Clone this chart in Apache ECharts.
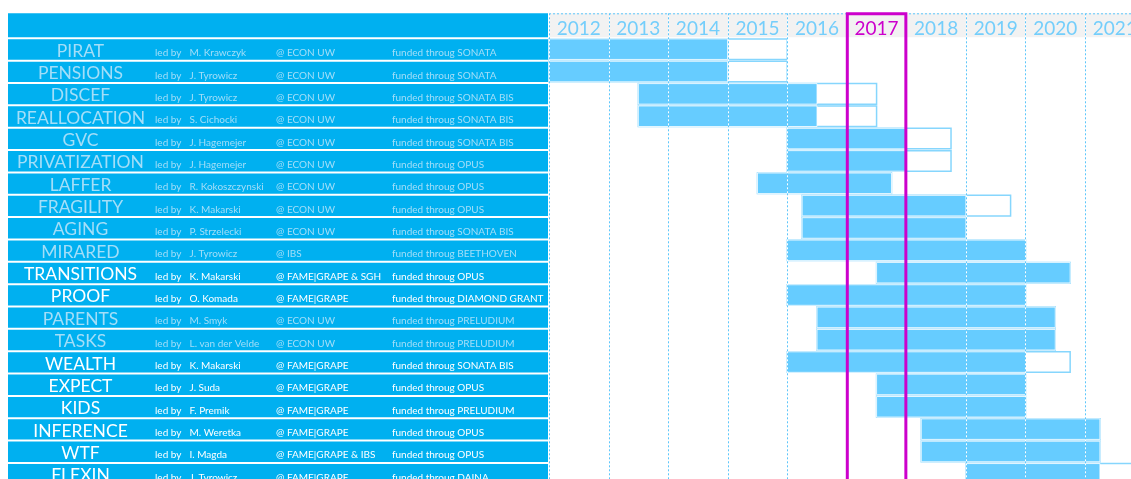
<!DOCTYPE html>
<html>
<head>
<meta charset="utf-8">
<script src="https://cdn.jsdelivr.net/npm/echarts@6/dist/echarts.min.js"></script>
<style>
html,body{margin:0;padding:0;background:#fff;}
#chart{width:1131px;height:479px;}
</style>
</head>
<body>
<div id="chart"></div>
<script>
const years = ['2012','2013','2014','2015','2016','2017','2018','2019','2020','2021'];
const yearLines = [2012,2013,2014,2015,2016,2017,2018,2019,2020,2021,2022];
const currentYear = '2017';
const projects = ['PIRAT','PENSIONS','DISCEF','REALLOCATION','GVC','PRIVATIZATION','LAFFER','FRAGILITY','AGING','MIRARED','TRANSITIONS','PROOF','PARENTS','TASKS','WEALTH','EXPECT','KIDS','INFERENCE','WTF','FLEXIN'];
const leaders = ['M. Krawczyk','J. Tyrowicz','J. Tyrowicz','S. Cichocki','J. Hagemejer','J. Hagemejer','R. Kokoszczynski','K. Makarski','P. Strzelecki','J. Tyrowicz','K. Makarski','O. Komada','M. Smyk','L. van der Velde','K. Makarski','J. Suda','F. Premik','M. Weretka','I. Magda','J. Tyrowicz'];
const hosts = ['ECON UW','ECON UW','ECON UW','ECON UW','ECON UW','ECON UW','ECON UW','ECON UW','ECON UW','IBS','FAME|GRAPE & SGH','FAME|GRAPE','ECON UW','ECON UW','FAME|GRAPE','FAME|GRAPE','FAME|GRAPE','FAME|GRAPE','FAME|GRAPE & IBS','FAME|GRAPE'];
const funders = ['SONATA','SONATA','SONATA BIS','SONATA BIS','SONATA BIS','OPUS','OPUS','OPUS','SONATA BIS','BEETHOVEN','OPUS','DIAMOND GRANT','PRELUDIUM','PRELUDIUM','SONATA BIS','OPUS','PRELUDIUM','OPUS','OPUS','DAINA'];
const starts =      [2012,2012,2013.5,2013.5,2016,2016,2015.5,2016.25,2016.25,2016,2017.5,2016,2016.5,2016.5,2016,2017.5,2017.5,2018.25,2018.25,2019];
const doneEnds =    [2015,2015,2016.5,2016.5,2018,2018,2017.75,2019,2019,2020,2020.75,2020,2020.5,2020.5,2020,2020,2020,2021.25,2021.25,2021.25];
const plannedEnds = [2016,2016,2017.5,2017.5,2018.75,2018.75,2017.75,2019.75,2019,2020,2020.75,2020,2020.5,2020.5,2020.75,2020,2020,2021.25,2021.25,2022.5];

const FONT = 'Lato';
const TABLE_BG = '#00B0F0';
const PALE = '#a3def8';
const BAR = '#66CCFF';
const LINE = '#5cc6fb';
const MAGENTA = '#CC00CC';
const HEAD_TOP = 13.3, HEAD_BOTTOM = 37.3;

const tableData = projects.map((p, i) => [i]);
const outlineData = projects.map((p, i) => [i, starts[i], plannedEnds[i]]);
const fillData = projects.map((p, i) => [i, starts[i], doneEnds[i]]);

function barItem(fill, stroke, lw) {
  return function (params, api) {
    const idx = api.value(0);
    const s = api.coord([api.value(1), idx]);
    const e = api.coord([api.value(2), idx]);
    const h = api.size([0, 1])[1];
    const top = s[1] - h / 2;
    return {
      type: 'rect',
      shape: { x: s[0], y: top + 0.6, width: e[0] - s[0], height: h - 1.8 },
      style: { fill: fill, stroke: stroke, lineWidth: lw }
    };
  };
}

const chart = echarts.init(document.getElementById('chart'), null, { renderer: 'canvas' });
chart.setOption({
  animation: false,
  backgroundColor: '#ffffff',
  grid: { left: 549, top: 38.3, width: 595.6, height: 447, containLabel: false, outerBoundsMode: 'none' },
  xAxis: [
    { type: 'value', min: 2012, max: 2022, interval: 1, show: false },
    {
      type: 'category', data: years, position: 'top', boundaryGap: true, z: 10,
      axisLine: { show: false }, axisTick: { show: false }, splitLine: { show: false },
      axisLabel: {
        fontFamily: FONT, fontSize: 19, margin: 0,
        color: function (v) { return v === currentYear ? MAGENTA : '#74cefb'; }
      }
    }
  ],
  yAxis: { type: 'category', data: projects, inverse: true, show: false },
  series: [
    {
      type: 'custom', xAxisIndex: 0, clip: false, z: 1, silent: true,
      data: [[2012, 2022]],
      renderItem: function (params, api) {
        const a = api.coord([api.value(0), 0]);
        const b = api.coord([api.value(1), 0]);
        return {
          type: 'group', children: [
            { type: 'rect', shape: { x: 8, y: HEAD_TOP, width: 540, height: HEAD_BOTTOM - HEAD_TOP }, style: { fill: TABLE_BG } },
            { type: 'rect', shape: { x: a[0], y: HEAD_TOP, width: b[0] - a[0], height: HEAD_BOTTOM - HEAD_TOP }, style: { fill: '#f2f2f2' } },
            { type: 'line', shape: { x1: a[0], y1: HEAD_TOP + 0.5, x2: b[0], y2: HEAD_TOP + 0.5 }, style: { stroke: LINE, lineWidth: 1, lineDash: [2, 2] } }
          ]
        };
      }
    },
    {
      type: 'custom', xAxisIndex: 0, clip: false, z: 2, silent: true,
      data: tableData,
      renderItem: function (params, api) {
        const i = api.value(0);
        const c = api.coord([2012, i]);
        const h = api.size([0, 1])[1];
        const top = c[1] - h / 2;
        const color = hosts[i].indexOf('FAME') >= 0 ? '#ffffff' : PALE;
        const small = { fontFamily: FONT, fontSize: 10, fill: color, verticalAlign: 'middle', y: c[1] + 3.5 };
        return {
          type: 'group', children: [
            { type: 'rect', shape: { x: 8, y: top + 1, width: 540, height: h - 2 }, style: { fill: TABLE_BG } },
            { type: 'text', style: { text: projects[i], x: 80.5, y: c[1] + 1.5, align: 'center', verticalAlign: 'middle', fontFamily: FONT, fontSize: 17.5, fill: color } },
            { type: 'text', style: Object.assign({ text: 'led by', x: 155 }, small) },
            { type: 'text', style: Object.assign({ text: leaders[i], x: 189.5 }, small) },
            { type: 'text', style: Object.assign({ text: '@ ' + hosts[i], x: 276 }, small) },
            { type: 'text', style: Object.assign({ text: 'funded throug ' + funders[i], x: 392 }, small) }
          ]
        };
      }
    },
    {
      type: 'custom', xAxisIndex: 0, clip: false, z: 3, silent: true,
      data: outlineData, encode: { x: [1, 2], y: 0 },
      renderItem: barItem('#ffffff', '#86d6fd', 1.5)
    },
    {
      type: 'custom', xAxisIndex: 0, clip: false, z: 4, silent: true,
      data: fillData, encode: { x: [1, 2], y: 0 },
      renderItem: barItem(BAR, '#ffffff', 0.8)
    },
    {
      type: 'custom', xAxisIndex: 0, clip: false, z: 5, silent: true,
      data: yearLines.map(y => [y]),
      renderItem: function (params, api) {
        const p = api.coord([api.value(0), 0]);
        const x = Math.round(p[0]) + 0.5;
        const bottom = params.coordSys.y + params.coordSys.height;
        return {
          type: 'group', children: [
            { type: 'line', shape: { x1: x, y1: HEAD_TOP, x2: x, y2: bottom }, style: { stroke: '#ffffff', lineWidth: 1 } },
            { type: 'line', shape: { x1: x, y1: HEAD_TOP, x2: x, y2: bottom }, style: { stroke: LINE, lineWidth: 1, lineDash: [2, 2] } }
          ]
        };
      }
    },
    {
      type: 'custom', xAxisIndex: 0, clip: false, z: 6, silent: true,
      data: [[Number(currentYear), Number(currentYear) + 1]],
      renderItem: function (params, api) {
        const a = api.coord([api.value(0), 0]);
        const b = api.coord([api.value(1), 0]);
        const bottom = params.coordSys.y + params.coordSys.height + 10;
        return {
          type: 'rect',
          shape: { x: a[0] + 0.5, y: HEAD_TOP + 0.5, width: b[0] - a[0] - 1, height: bottom - HEAD_TOP },
          style: { fill: 'none', stroke: MAGENTA, lineWidth: 3 }
        };
      }
    }
  ]
});
</script>
</body>
</html>
